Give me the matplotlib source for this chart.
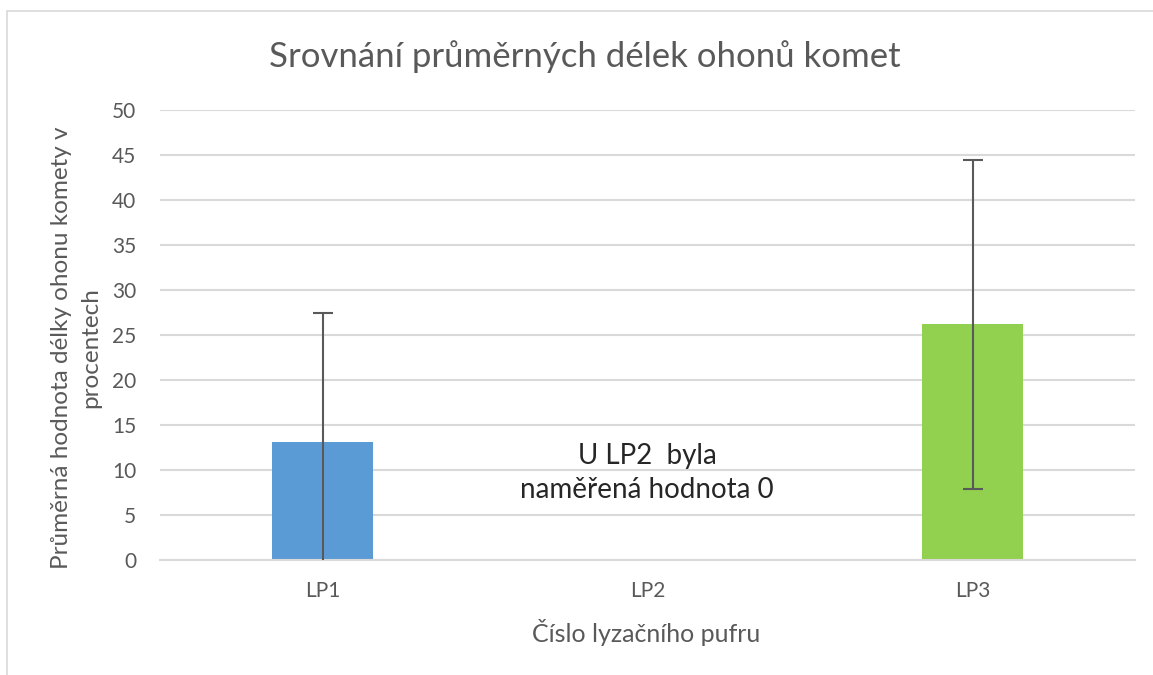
import numpy as np
import matplotlib
matplotlib.use('Agg')
import matplotlib.pyplot as plt
from matplotlib.patches import Rectangle

W, H = 1153, 675

buffers = ['LP1', 'LP2', 'LP3']
means = [13.1, 0.0, 26.2]
errors = [14.3, 0.0, 18.3]
colors = ['#5b9bd5', '#ffffff', '#92d050']
yticks = [0, 5, 10, 15, 20, 25, 30, 35, 40, 45, 50]

title = 'Srovnání průměrných délek ohonů komet'
ylabel = 'Průměrná hodnota délky ohonu komety v\nprocentech'
xlabel = 'Číslo lyzačního pufru'
note = 'U LP2  byla\nnaměřená hodnota 0'

plt.rcParams['font.family'] = ['Lato', 'DejaVu Sans']
GRAY = '#595959'


def px(x, y):
    # pixel coords (top-left origin) -> figure fraction
    return x / W, 1 - y / H


fig = plt.figure(figsize=(W / 100, H / 100), dpi=100)

# outer chart border
fig.patches.append(Rectangle(px(7, 700), (W + 20) / W, 689 / H, transform=fig.transFigure,
                             fill=False, edgecolor='#d9d9d9', linewidth=1.2))

ax = fig.add_axes([160 / W, 115 / H, 975 / W, 450 / H])
x = np.arange(len(buffers))
ax.bar(x, means, width=0.31, color=colors, zorder=2)
for i in range(len(buffers)):
    if errors[i] > 0:
        ax.errorbar(x[i], means[i], yerr=errors[i], fmt='none', ecolor='#595959',
                    elinewidth=1.5, capsize=7, capthick=1.5, zorder=3)

ax.set_xlim(-0.5, 2.5)
ax.set_ylim(0, 50)
ax.set_yticks(yticks)
ax.set_xticks(x)
ax.set_xticklabels(buffers)
ax.yaxis.grid(True, color='#d9d9d9', linewidth=1.5, zorder=0)
ax.set_axisbelow(True)
for s in ['top', 'right', 'left']:
    ax.spines[s].set_visible(False)
ax.spines['bottom'].set_color('#d9d9d9')
ax.spines['bottom'].set_linewidth(1.5)
ax.tick_params(axis='both', length=0, labelsize=15, labelcolor=GRAY)
ax.tick_params(axis='y', pad=17)
ax.tick_params(axis='x', pad=15)

fx, fy = px(585, 57)
fig.text(fx, fy, title, ha='center', va='center', fontsize=25, color=GRAY)
fx, fy = px(646, 633)
fig.text(fx, fy, xlabel, ha='center', va='center', fontsize=18, color=GRAY)
fx, fy = px(76, 348)
fig.text(fx, fy, ylabel, ha='center', va='center', rotation=90, fontsize=17.5,
         color=GRAY, linespacing=1.45)
fx, fy = px(647, 473)
fig.text(fx, fy, note, ha='center', va='center', fontsize=20, color='#262626',
         linespacing=1.4)

fig.savefig('out.png', dpi=100)
